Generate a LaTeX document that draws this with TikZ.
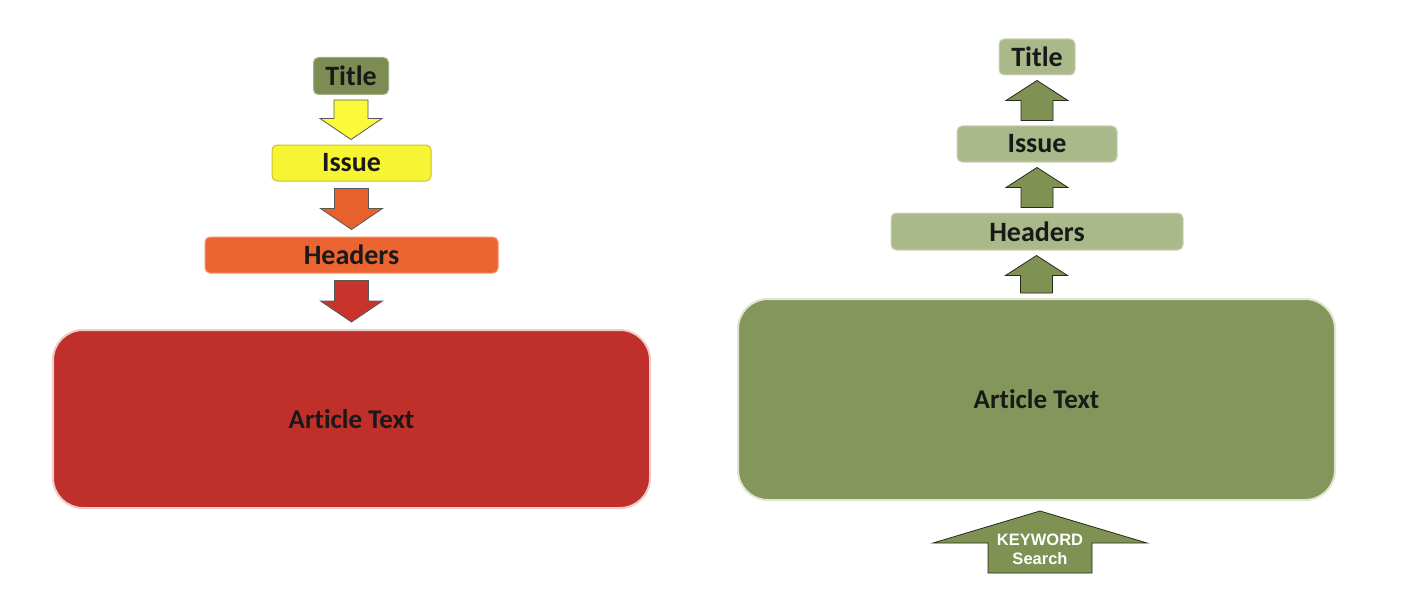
\documentclass[tikz,border=0pt]{standalone}
\usepackage{fontspec}
\setmainfont{Carlito}[Ligatures=NoCommon]
\newfontfamily\kwfont{Liberation Sans}
\usetikzlibrary{calc}

\definecolor{lolive}{HTML}{7D8C52}
\definecolor{lyellow}{HTML}{F7F533}
\definecolor{lorange}{HTML}{EC6531}
\definecolor{lred}{HTML}{C0302A}
\definecolor{ayellow}{HTML}{FBFA3A}
\definecolor{aorange}{HTML}{E8602C}
\definecolor{ared}{HTML}{C8332B}
\definecolor{rlight}{HTML}{A9B98A}
\definecolor{rarrow}{HTML}{7F9153}
\definecolor{rgreen}{HTML}{84965B}

\tikzset{
	bshaft/.store in=\bshaftw, bhead/.store in=\bheadw, bheadlen/.store in=\bheadl, bgap/.store in=\bgapw,
	bshaft=17, bhead=31, bheadlen=21, bgap=5,
	blockarrow/.style={line width=0.8pt, line join=miter,
		to path={let \p1=(\tikztostart), \p2=(\tikztotarget), \n1={sign(\y2-\y1)} in
			(\x1-\bshaftw,\y1+\n1*\bgapw) -- (\x1-\bshaftw,\y2-\n1*\bgapw-\n1*\bheadl)
			-- (\x1-\bheadw,\y2-\n1*\bgapw-\n1*\bheadl) -- (\x1,\y2-\n1*\bgapw)
			-- (\x1+\bheadw,\y2-\n1*\bgapw-\n1*\bheadl) -- (\x1+\bshaftw,\y2-\n1*\bgapw-\n1*\bheadl)
			-- (\x1+\bshaftw,\y1+\n1*\bgapw) -- cycle}},
	smallbox/.style={rectangle, rounded corners=5pt, line width=1pt, minimum height=36pt, inner sep=0pt,
		font=\bfseries\fontsize{28}{30}\selectfont, text=black!90},
	bigbox/.style={rectangle, rounded corners=30pt, line width=2pt, inner sep=0pt,
		minimum width=597pt, font=\bfseries\fontsize{27}{30}\selectfont, text=black!90}
}

\begin{document}
\begin{tikzpicture}[x=1pt, y=-1pt]
	\useasboundingbox[fill=white] (0,0) rectangle (1402,591);
	
	% left column
	\node[smallbox, fill=lolive, draw=lolive!70!white, minimum width=75pt, minimum height=37pt] (ltitle) at (351,76){Title};
	\node[smallbox, fill=lyellow, draw=lyellow!80!black, minimum width=159pt] (lissue) at (351.5,163){Issue};
	\node[smallbox, fill=lorange, draw=lorange!70!white, minimum width=293pt] (lheaders) at (351.5,255){Headers};
	\node[bigbox, fill=lred, draw=lred!25!white, minimum height=178pt] (ltext) at (351.5,419){Article Text};
	
	\draw[blockarrow, fill=ayellow, draw=black!65] (ltitle.south) to (lissue.north);
	\draw[blockarrow, fill=aorange, draw=black!65, bgap=7] (lissue.south) to (lheaders.north);
	\draw[blockarrow, fill=ared, draw=black!65, bgap=7] (lheaders.south) to (ltext.north);
	
	% right column
	\node[smallbox, fill=rlight, draw=rlight!60!white, minimum width=76pt] (rtitle) at (1037,57){Title};
	\node[smallbox, fill=rlight, draw=rlight!60!white, minimum width=160pt] (rissue) at (1037,144){Issue};
	\node[smallbox, fill=rlight, draw=rlight!60!white, minimum width=292pt, minimum height=37pt] (rheaders) at (1037,231.5){Headers};
	\node[bigbox, fill=rgreen, draw=rgreen!25!white, minimum height=201pt] (rtext) at (1036.5,399.5){Article Text};
	
	\draw[blockarrow, fill=rarrow, draw=black!70!rarrow, bshaft=16, bheadlen=20] (rissue.north) to (rtitle.south);
	\draw[blockarrow, fill=rarrow, draw=black!70!rarrow, bshaft=16, bheadlen=20] (rheaders.north) to (rissue.south);
	\draw[blockarrow, fill=rarrow, draw=black!70!rarrow, bshaft=16, bheadlen=20] (rtext.north) to (rheaders.south);
	
	% keyword search
	\coordinate (kwbase) at (1040,573);
	\coordinate (kwtip) at (1040,511);
	\draw[blockarrow, fill=rarrow, draw=black!70!rarrow, bshaft=52, bhead=107, bheadlen=32, bgap=0] (kwbase) to (kwtip);
	\node[align=center, inner sep=0pt, text=white, font=\kwfont\bfseries\fontsize{16.5}{19}\selectfont] (kw) at (1040,549){KEYWORD\\Search};
\end{tikzpicture}
\end{document}
